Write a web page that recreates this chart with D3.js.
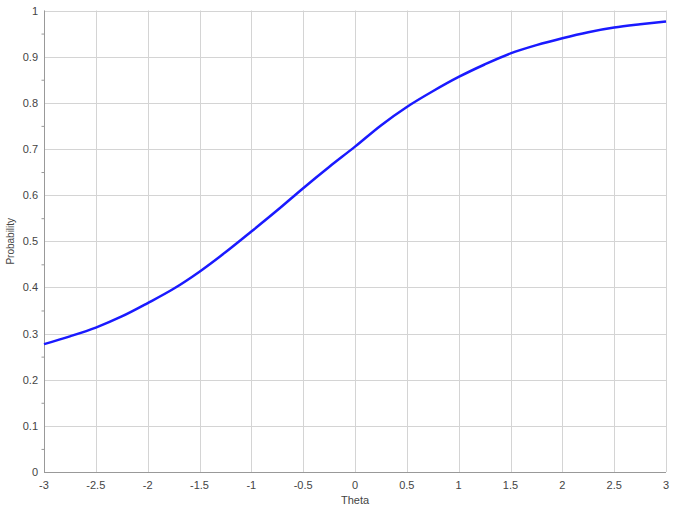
<!DOCTYPE html>
<html>
<head>
<meta charset="utf-8">
<script src="https://cdn.jsdelivr.net/npm/d3@7"></script>
<style>
  body { margin: 0; background: #fff; }
  svg { display: block; font-family: "Liberation Sans", Arial, sans-serif; }
</style>
</head>
<body>
<svg id="chart" width="680" height="516"></svg>
<script>
// values
const theta = [-3, -2.75, -2.5, -2.25, -2, -1.75, -1.5, -1.25, -1, -0.75, -0.5, -0.25,
  0, 0.25, 0.5, 0.75, 1, 1.25, 1.5, 1.75, 2, 2.25, 2.5, 2.75, 3]
const prob = [0.277, 0.294, 0.313, 0.337, 0.366, 0.397, 0.434, 0.476, 0.521, 0.567, 0.615, 0.661,
  0.705, 0.751, 0.791, 0.825, 0.856, 0.883, 0.907, 0.925, 0.940, 0.953, 0.963, 0.970, 0.976]
const xTicks = [-3, -2.5, -2, -1.5, -1, -0.5, 0, 0.5, 1, 1.5, 2, 2.5, 3]
const yTicks = [0, 0.1, 0.2, 0.3, 0.4, 0.5, 0.6, 0.7, 0.8, 0.9, 1]
const yMinor = [0.05, 0.15, 0.25, 0.35, 0.45, 0.55, 0.65, 0.75, 0.85, 0.95]

const margin = { left: 44, right: 14, top: 10.5, bottom: 44 }
const W = 680, H = 516
const svg = d3.select('#chart')

const x = d3.scaleLinear().domain([-3, 3]).range([margin.left, W - margin.right])
const y = d3.scaleLinear().domain([0, 1]).range([H - margin.bottom, margin.top])

// plain hyphen for negatives, like the reference
const fmt = d => String(d)

// grid
svg.append('g')
  .selectAll('line').data(xTicks).join('line')
    .attr('x1', d => Math.round(x(d)) + 0.5).attr('x2', d => Math.round(x(d)) + 0.5)
    .attr('y1', y(1)).attr('y2', y(0))
    .attr('stroke', '#d4d4d4')
svg.append('g')
  .selectAll('line').data(yTicks).join('line')
    .attr('y1', d => Math.round(y(d)) + 0.5).attr('y2', d => Math.round(y(d)) + 0.5)
    .attr('x1', x(-3)).attr('x2', x(3))
    .attr('stroke', '#d4d4d4')

// left axis with minor ticks
const yAxis = d3.axisLeft(y).tickValues(yMinor).tickSize(3).tickFormat('')
const ya = svg.append('g').attr('transform', `translate(${Math.round(x(-3)) + 0.5},0)`).call(yAxis)
ya.select('.domain').attr('stroke', '#999').attr('d', `M0,${y(1)}V${y(0)}`)
ya.selectAll('.tick line').attr('stroke', '#999')

svg.append('g')
  .selectAll('text').data(yTicks).join('text')
    .attr('x', 38).attr('y', d => y(d) + 4)
    .attr('text-anchor', 'end')
    .attr('font-size', 11).attr('fill', '#444')
    .text(fmt)

// bottom axis
svg.append('line')
  .attr('x1', x(-3)).attr('x2', x(3))
  .attr('y1', Math.round(y(0)) + 0.5).attr('y2', Math.round(y(0)) + 0.5)
  .attr('stroke', '#999')

svg.append('g')
  .selectAll('text').data(xTicks).join('text')
    .attr('x', d => x(d)).attr('y', y(0) + 17)
    .attr('text-anchor', 'middle')
    .attr('font-size', 11).attr('fill', '#444')
    .text(fmt)

svg.append('text')
  .attr('x', (x(-3) + x(3)) / 2).attr('y', 504)
  .attr('text-anchor', 'middle')
  .attr('font-size', 11).attr('fill', '#444')
  .text('Theta')

svg.append('text')
  .attr('transform', `translate(14,${(y(0) + y(1)) / 2}) rotate(-90)`)
  .attr('text-anchor', 'middle')
  .attr('font-size', 10).attr('fill', '#444')
  .text('Probability')

// curve
const line = d3.line()
  .x((d, i) => x(theta[i]))
  .y(d => y(d))
  .curve(d3.curveMonotoneX)

svg.append('path')
  .datum(prob)
  .attr('d', line)
  .attr('fill', 'none')
  .attr('stroke', '#1a1aff')
  .attr('stroke-width', 2.5)
</script>
</body>
</html>
